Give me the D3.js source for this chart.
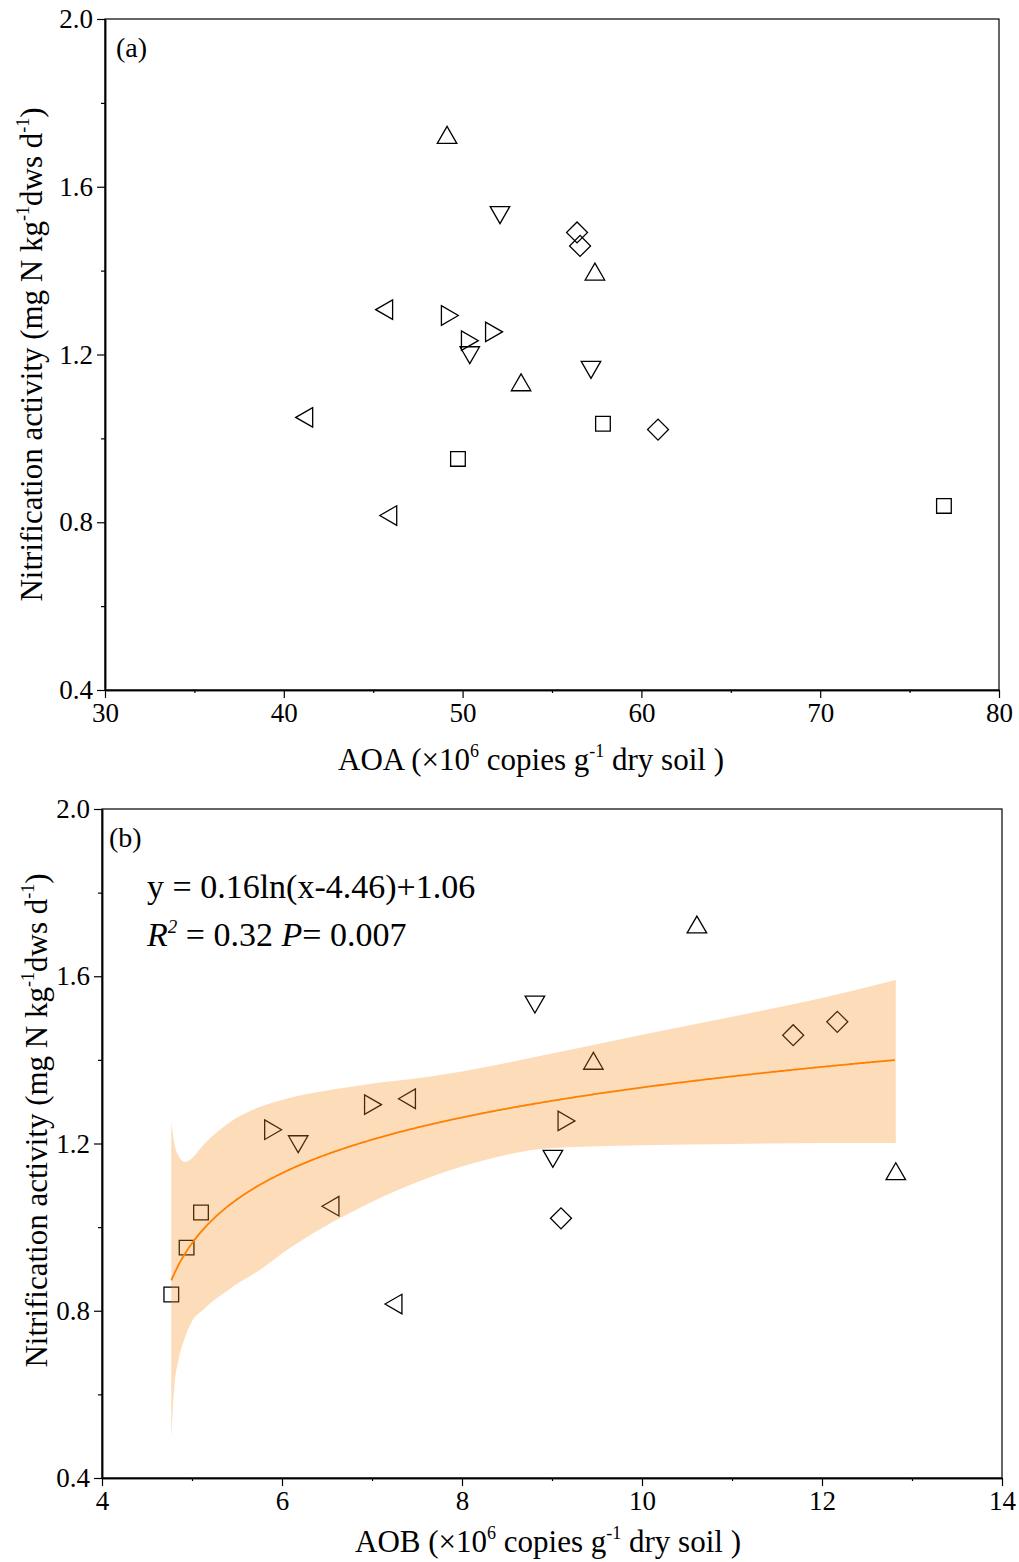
<!DOCTYPE html>
<html>
<head>
<meta charset="utf-8">
<script src="https://cdn.jsdelivr.net/npm/d3@7"></script>
<style>
  body { margin: 0; background: #fff; }
  svg text { font-family: "Liberation Serif", "Times New Roman", serif; fill: #000; }
</style>
</head>
<body>
<div id="chart"></div>
<script>
// nitrification activity, one value per sample (shared by both panels)
var rate = [1.717, 1.539, 1.491, 1.459, 1.391, 1.307, 1.293, 1.254, 1.233, 1.205, 1.170, 1.127, 1.050, 1.035, 1.021, 0.951, 0.816, 0.839];
// AOA abundance (x10^6 copies g-1)
var aoa = [49.13, 52.09, 56.4, 56.57, 57.4, 45.77, 49.13, 51.6, 50.25, 50.4, 57.18, 53.27, 41.3, 57.85, 60.93, 49.74, 46.0, 76.92];
// AOB abundance (x10^6 copies g-1)
var aob = [10.61, 8.81, 12.17, 11.68, 9.46, 7.42, 6.98, 9.13, 5.87, 6.18, 9.01, 12.82, 6.57, 5.10, 9.10, 4.94, 7.27, 4.77];
// marker per sample
var shapes = ["up", "down", "diamond", "diamond", "up", "left", "right", "right", "right", "down", "down", "up", "left", "square", "diamond", "square", "left", "square"];

// fitted model for panel b: y = a ln(x - c) + b
var fitA = 0.16, fitC = 4.46, fitB = 1.06;
var fitRange = [4.77, 12.82];

// 95% band
var bandX =     [4.77, 4.80, 4.85, 4.92, 5.00, 5.12, 5.45, 5.75, 6.00, 6.90, 7.65, 8.00, 9.00, 10.0, 11.0, 12.0, 12.82];
var bandUpper = [1.251, 1.204, 1.170, 1.156, 1.165, 1.195, 1.255, 1.287, 1.304, 1.340, 1.360, 1.372, 1.415, 1.460, 1.503, 1.548, 1.591];
var bandLower = [0.491, 0.610, 0.682, 0.735, 0.775, 0.802, 0.857, 0.897, 0.937, 1.050, 1.120, 1.145, 1.189, 1.196, 1.199, 1.201, 1.201];

var yTicks = [0.4, 0.8, 1.2, 1.6, 2.0];
var yMinor = [0.6, 1.0, 1.4, 1.8];
var aoaTicks = [30, 40, 50, 60, 70, 80];
var aoaMinor = [35, 45, 55, 65, 75];
var aobTicks = [4, 6, 8, 10, 12, 14];
var aobMinor = [5, 7, 9, 11, 13];

var width = 1019, height = 1562;

var svg = d3.select("#chart").append("svg")
    .attr("width", width)
    .attr("height", height);

var symbolGen = d3.symbol().type(d3.symbolTriangle).size(165);
var squareGen = d3.symbol().type(d3.symbolSquare).size(215);
var diamondGen = d3.symbol().type(d3.symbolSquare).size(220);

function markerPath(s) {
    if (s == "square") return squareGen();
    if (s == "diamond") return diamondGen();
    return symbolGen();
}
function markerRotate(s) {
    if (s == "down") return 180;
    if (s == "left") return -90;
    if (s == "right") return 90;
    if (s == "diamond") return 45;
    return 0;
}

function drawPanel(o) {
    var x = d3.scaleLinear().domain(o.xDomain).range([o.left, o.right]);
    var y = d3.scaleLinear().domain([0.4, 2.0]).range([o.bottom, o.top]);
    var g = svg.append("g");

    // frame
    g.append("rect")
        .attr("x", o.left).attr("y", o.top)
        .attr("width", o.right - o.left).attr("height", o.bottom - o.top)
        .style("fill", "none").style("stroke", "#000").style("stroke-width", "1.2px");

    // axes
    g.append("g")
        .attr("transform", "translate(" + o.left + ",0)")
        .call(d3.axisLeft(y).tickValues(yTicks).tickSize(8).tickSizeOuter(0).tickFormat(d3.format(".1f")).tickPadding(4));
    g.append("g")
        .attr("transform", "translate(" + o.left + ",0)")
        .call(d3.axisLeft(y).tickValues(yMinor).tickSize(4).tickSizeOuter(0).tickFormat(""));
    g.append("g")
        .attr("transform", "translate(0," + o.bottom + ")")
        .call(d3.axisBottom(x).tickValues(o.xTicks).tickSize(8).tickSizeOuter(0).tickPadding(5));
    g.append("g")
        .attr("transform", "translate(0," + o.bottom + ")")
        .call(d3.axisBottom(x).tickValues(o.xMinor).tickSize(3).tickSizeOuter(0).tickFormat(""));
    g.selectAll(".domain").style("stroke-width", "1.5px");
    g.selectAll(".tick line").style("stroke-width", "1.2px");
    g.selectAll(".tick text")
        .attr("font-size", 27)
        .style("font-family", "Liberation Serif")
        .style("font-size", "27px");

    // points
    g.selectAll(".pt")
        .data(rate)
        .enter().append("path")
        .attr("class", "pt")
        .attr("d", function(d, i) { return markerPath(shapes[i]); })
        .attr("transform", function(d, i) {
            return "translate(" + x(o.xs[i]) + "," + y(d) + ") rotate(" + markerRotate(shapes[i]) + ")";
        })
        .style("fill", "none")
        .style("stroke", "#000")
        .style("stroke-width", "1.3px");

    if (o.fit) {
        var band = d3.area()
            .x(function(d, i) { return x(bandX[i]); })
            .y0(function(d, i) { return y(bandLower[i]); })
            .y1(function(d, i) { return y(bandUpper[i]); })
            .curve(d3.curveMonotoneX);
        g.append("path")
            .attr("d", band(bandX))
            .style("fill", "#F78A18")
            .style("fill-opacity", 0.3)
            .style("stroke", "none");

        var fitPts = d3.range(fitRange[0], fitRange[1] + 0.001, 0.02).map(function(v) {
            return [v, fitA * Math.log(v - fitC) + fitB];
        });
        g.append("path")
            .attr("d", d3.line().x(function(d) { return x(d[0]); }).y(function(d) { return y(d[1]); })(fitPts))
            .style("fill", "none")
            .style("stroke", "#FF7F00")
            .style("stroke-width", "1.8px");

        var eq = g.append("text")
            .attr("x", o.left + 45).attr("y", o.top + 89)
            .style("font-size", "34px");
        eq.append("tspan").text("y = 0.16ln(x-4.46)+1.06");

        var r2 = g.append("text")
            .attr("x", o.left + 45).attr("y", o.top + 137)
            .style("font-size", "34px");
        r2.append("tspan").style("font-style", "italic").text("R");
        r2.append("tspan").attr("dy", -13).style("font-size", "19px").style("font-style", "italic").text("2");
        r2.append("tspan").attr("dy", 13).text(" = 0.32 ");
        r2.append("tspan").style("font-style", "italic").text("P");
        r2.append("tspan").text("= 0.007");
    }

    // panel letter
    g.append("text")
        .attr("x", o.left + o.labelDx).attr("y", o.top + 38)
        .style("font-size", "28px")
        .text(o.label);

    // x title
    var xt = g.append("text")
        .attr("x", o.xTitleX).attr("y", o.xTitleY)
        .attr("text-anchor", "middle")
        .style("font-size", "31px");
    xt.append("tspan").text(o.xName + " (\u00d710");
    xt.append("tspan").attr("dy", -13).style("font-size", "18px").text("6");
    xt.append("tspan").attr("dy", 13).text(" copies g");
    xt.append("tspan").attr("dy", -13).style("font-size", "18px").text("-1");
    xt.append("tspan").attr("dy", 13).text(" dry soil )");

    // y title
    var yt = g.append("text")
        .attr("transform", "translate(" + o.yTitleX + "," + ((o.top + o.bottom) / 2 - o.yTitleShift) + ") rotate(-90)")
        .attr("text-anchor", "middle")
        .style("font-size", "31px");
    yt.append("tspan").text("Nitrification activity (mg N kg");
    yt.append("tspan").attr("dy", -13).style("font-size", "18px").text("-1");
    yt.append("tspan").attr("dy", 13).text("dws d");
    yt.append("tspan").attr("dy", -13).style("font-size", "18px").text("-1");
    yt.append("tspan").attr("dy", 13).text(")");
}

drawPanel({
    xDomain: [30, 80], left: 105, right: 999, top: 19, bottom: 690,
    xTicks: aoaTicks, xMinor: aoaMinor, xs: aoa,
    label: "(a)", labelDx: 11, xName: "AOA",
    xTitleX: 531, xTitleY: 770, yTitleX: 42, yTitleShift: 0,
    fit: false
});

drawPanel({
    xDomain: [4, 14], left: 102, right: 1002, top: 809, bottom: 1478,
    xTicks: aobTicks, xMinor: aobMinor, xs: aob,
    label: "(b)", labelDx: 7, xName: "AOB",
    xTitleX: 548, xTitleY: 1552, yTitleX: 47, yTitleShift: 23,
    fit: true
});
</script>
</body>
</html>
